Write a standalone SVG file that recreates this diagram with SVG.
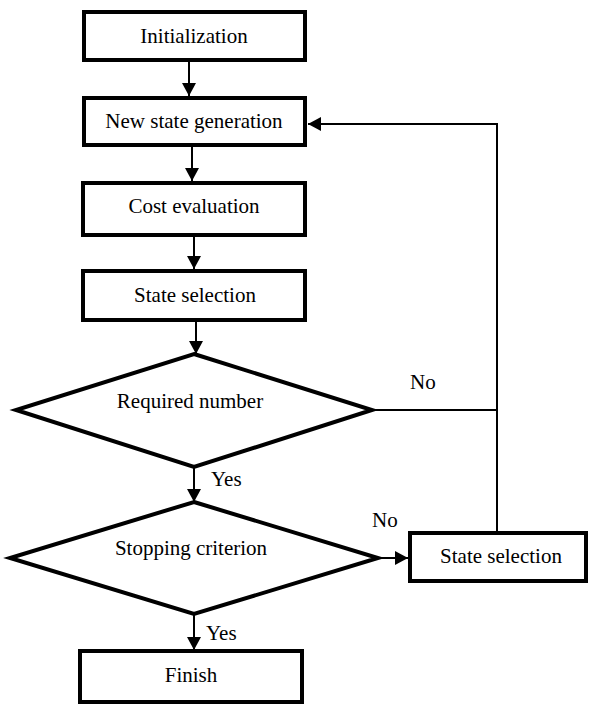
<svg xmlns="http://www.w3.org/2000/svg" width="590" height="706" viewBox="0 0 590 706">
<style>
.box{fill:#fff;stroke:#000;stroke-width:4}
.dia{fill:#fff;stroke:#000;stroke-width:4;stroke-linejoin:miter}
.t{font-family:"Liberation Serif","Times New Roman",serif;font-size:21px;fill:#000;text-anchor:middle}
.l{font-family:"Liberation Serif","Times New Roman",serif;font-size:21px;fill:#000}
.c{fill:none;stroke:#000;stroke-width:2}
</style>
<defs>
<marker id="ah" markerWidth="13" markerHeight="14" refX="13" refY="7" orient="auto" markerUnits="userSpaceOnUse">
<path d="M0,0 L13,7 L0,14 Z" fill="#000"/>
</marker>
</defs>
<g id="connectors">
<line class="c" x1="189" y1="62" x2="189" y2="96" marker-end="url(#ah)"/>
<line class="c" x1="192" y1="147" x2="192" y2="181" marker-end="url(#ah)"/>
<line class="c" x1="194" y1="237" x2="194" y2="269" marker-end="url(#ah)"/>
<line class="c" x1="196" y1="322" x2="196" y2="354" marker-end="url(#ah)"/>
<line class="c" x1="194" y1="467" x2="194" y2="502" marker-end="url(#ah)"/>
<line class="c" x1="194" y1="614" x2="194" y2="650" marker-end="url(#ah)"/>
<line class="c" x1="378" y1="558" x2="408" y2="558" marker-end="url(#ah)"/>
<polyline class="c" points="372,410 497,410"/>
<polyline class="c" points="497,531 497,124 308,124" marker-end="url(#ah)"/>
</g>
<g id="init"><rect class="box" x="84" y="12" width="221" height="48"/><text class="t" x="194" y="43">Initialization</text></g>
<g id="newstate"><rect class="box" x="84" y="98" width="221" height="47"/><text class="t" x="194" y="128">New state generation</text></g>
<g id="cost"><rect class="box" x="83" y="183" width="222" height="52"/><text class="t" x="194" y="213">Cost evaluation</text></g>
<g id="statesel"><rect class="box" x="83" y="271" width="222" height="49"/><text class="t" x="195" y="302">State selection</text></g>
<g id="required"><polygon class="dia" points="194,354 372,410 194,467 16,410"/><text class="t" x="190" y="408">Required number</text></g>
<g id="stopping"><polygon class="dia" points="194,502 378,558 194,614 10,558"/><text class="t" x="191" y="555">Stopping criterion</text></g>
<g id="statesel2"><rect class="box" x="410" y="533" width="176" height="48"/><text class="t" x="501" y="563">State selection</text></g>
<g id="finish"><rect class="box" x="80" y="651" width="222" height="51"/><text class="t" x="191" y="682">Finish</text></g>
<g id="labels">
<text class="l" x="410" y="389">No</text>
<text class="l" x="372" y="527">No</text>
<text class="l" x="211" y="486">Yes</text>
<text class="l" x="206" y="640">Yes</text>
</g>
</svg>
